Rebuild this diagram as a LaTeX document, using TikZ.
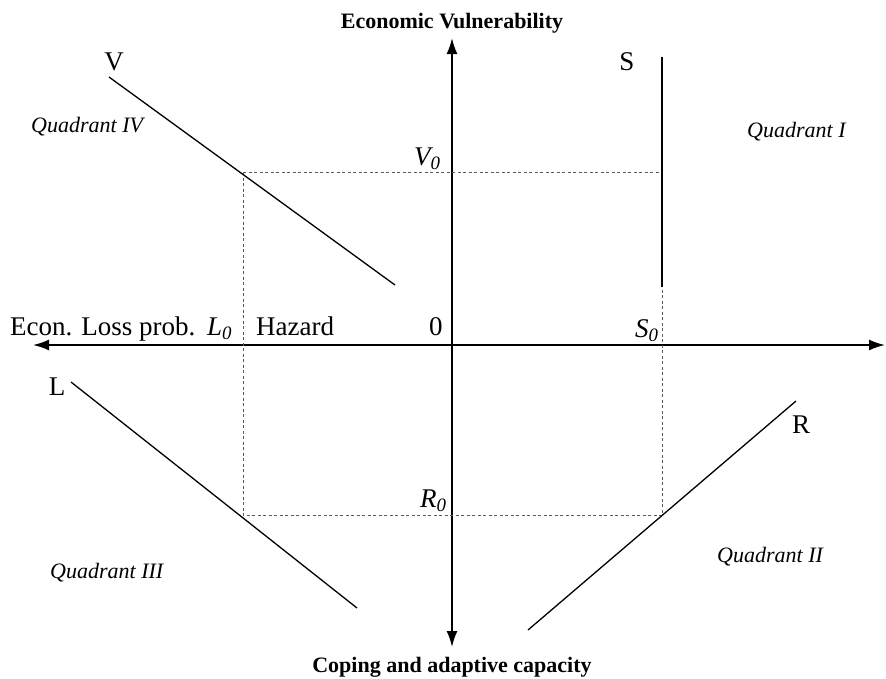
\documentclass[tikz,border=0pt]{standalone}
\usepackage{fontspec}
\setmainfont{Liberation Serif}
\usetikzlibrary{arrows.meta}
\begin{document}
\begin{tikzpicture}[x=1pt,y=-1pt,
  axis/.style={line width=1.8pt,{Latex[length=16pt,width=11pt]}-{Latex[length=16pt,width=11pt]}},
  curve/.style={line width=1.3pt},
  guide/.style={line width=0.8pt,black!65,dash pattern=on 3pt off 2.5pt},
  lbl/.style={inner sep=0pt,font=\fontsize{27}{30}\selectfont},
  ttl/.style={inner sep=0pt,font=\fontsize{22}{26}\selectfont\bfseries},
  quad/.style={inner sep=0pt,font=\fontsize{22}{26}\selectfont\itshape}]
\useasboundingbox (0,0) rectangle (886,678);
% axes
\coordinate (xL) at (33,345);
\coordinate (xR) at (885,345);
\coordinate (yT) at (452,38);
\coordinate (yB) at (452,647);
\draw[axis] (xL) -- (xR);
\draw[axis] (yB) -- (yT);
% guide points
\coordinate (g1) at (243,172);
\coordinate (g2) at (662,172);
\coordinate (g3) at (662,290);
\coordinate (g4) at (662,515);
\coordinate (g5) at (243,515);
\draw[guide] (g1) -- (g2);
\draw[guide] (g1) -- (g5) -- (g4) -- (g3);
% curves
\coordinate (v1) at (109,77);  \coordinate (v2) at (395,285);
\coordinate (s1) at (662,57);  \coordinate (s2) at (662,287);
\coordinate (l1) at (71,382);  \coordinate (l2) at (357,608);
\coordinate (r1) at (796,401); \coordinate (r2) at (528,630);
\draw[curve] (v1) -- (v2);
\draw[curve] (s1) -- (s2);
\draw[curve] (l1) -- (l2);
\draw[curve] (r1) -- (r2);
% titles
\node[ttl,anchor=base] (top) at (452,28) {Economic Vulnerability};
\node[ttl,anchor=base] (bot) at (452,672) {Coping and adaptive capacity};
% axis labels
\node[lbl,anchor=base west] (econ) at (10,335) {Econ. Loss prob.};
\node[lbl,anchor=base west] (L0) at (207,335) {\itshape L\textsubscript{0}};
\node[lbl,anchor=base west] (haz) at (256,335) {Hazard};
\node[lbl,anchor=base west] (zero) at (429,335) {0};
\node[lbl,anchor=base west] (S0) at (635,337) {\itshape S\textsubscript{0}};
\node[lbl,anchor=base west] (V0) at (414,165) {\itshape V\textsubscript{0}};
\node[lbl,anchor=base west] (R0) at (420,507) {\itshape R\textsubscript{0}};
% curve labels
\node[lbl,anchor=base] (Vl) at (114,70) {V};
\node[lbl,anchor=base] (Sl) at (627,70) {S};
\node[lbl,anchor=base] (Ll) at (57,395) {L};
\node[lbl,anchor=base] (Rl) at (801,433) {R};
% quadrants
\node[quad,anchor=base west] (q4) at (31,132) {Quadrant IV};
\node[quad,anchor=base west] (q1) at (747,137) {Quadrant I};
\node[quad,anchor=base west] (q3) at (50,578) {Quadrant III};
\node[quad,anchor=base west] (q2) at (717,562) {Quadrant II};
\end{tikzpicture}
\end{document}
